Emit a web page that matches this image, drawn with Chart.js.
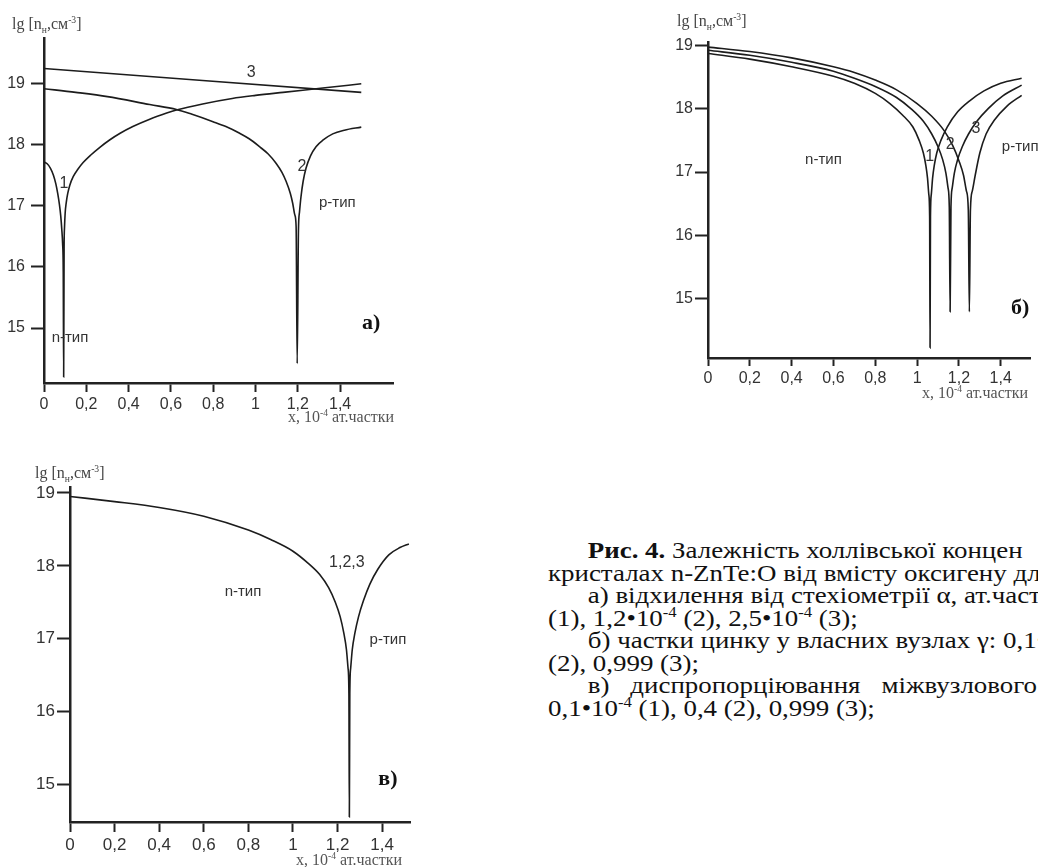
<!DOCTYPE html>
<html>
<head>
<meta charset="utf-8">
<title>Рис. 4</title>
<script src="https://cdn.jsdelivr.net/npm/chart.js@4.4.1/dist/chart.umd.min.js"></script>
<style>
  body { margin: 0; background: #fff; width: 1038px; height: 867px; position: relative; overflow: hidden; }
  canvas { position: absolute; }
  .ytitle, .xtitle { position: absolute; font-family: "Liberation Serif", serif; white-space: nowrap; color: #444; }
  .ytitle { font-size: 16px; }
  .xtitle { font-size: 16px; color: #555; }
  .ytitle sub, .ytitle sup, .xtitle sup { font-size: 60%; line-height: 0; }
  #caption { position: absolute; left: 548px; top: 540px; font-family: "Liberation Serif", serif; font-size: 23px; line-height: 22.5px; color: #111; transform: scaleX(1.17); transform-origin: 0 0; }
  #caption div { white-space: nowrap; }
  #caption .ind { padding-left: 34px; }
  #caption sup { font-size: 62%; line-height: 0; }
  #caption .just { width: 384px; text-align: justify; text-align-last: justify; white-space: normal; }
</style>
</head>
<body>
<canvas id="chartA" width="420" height="430" style="left:0;top:0"></canvas>
<canvas id="chartB" width="378" height="420" style="left:660px;top:0"></canvas>
<canvas id="chartC" width="420" height="427" style="left:0;top:440px"></canvas>

<div class="ytitle" style="left:12px;top:15px">lg [n<sub>н</sub>,см<sup>-3</sup>]</div>
<div class="ytitle" style="left:677px;top:12px">lg [n<sub>н</sub>,см<sup>-3</sup>]</div>
<div class="ytitle" style="left:35px;top:464px">lg [n<sub>н</sub>,см<sup>-3</sup>]</div>
<div class="xtitle" style="left:288px;top:408px">x, 10<sup>-4</sup> ат.частки</div>
<div class="xtitle" style="left:922px;top:384px">x, 10<sup>-4</sup> ат.частки</div>
<div class="xtitle" style="left:296px;top:851px">x, 10<sup>-4</sup> ат.частки</div>

<div id="caption">
  <div class="ind"><b>Рис. 4.</b> Залежність холлівської концен</div>
  <div>кристалах n-ZnTe:O від вмісту оксигену для</div>
  <div class="ind">а) відхилення від стехіометрії α, ат.част</div>
  <div>(1), 1,2•10<sup>-4</sup> (2), 2,5•10<sup>-4</sup> (3);</div>
  <div class="ind">б) частки цинку у власних вузлах γ: 0,1•</div>
  <div>(2), 0,999 (3);</div>
  <div class="ind"><div class="just">в) диспропорціювання міжвузлового</div></div>
  <div>0,1•10<sup>-4</sup> (1), 0,4 (2), 0,999 (3);</div>
</div>

<script>
// tick values shared by all three panels
const xTickVals = [0, 0.2, 0.4, 0.6, 0.8, 1, 1.2, 1.4];
const yTickVals = [15, 16, 17, 18, 19];

// panel а) - deviation from stoichiometry
const a1X = [0, 0.015, 0.03, 0.045, 0.056, 0.065, 0.073, 0.079, 0.084, 0.088, 0.091, 0.093, 0.095, 0.097, 0.1, 0.105, 0.112, 0.122, 0.138, 0.16, 0.185, 0.22, 0.264, 0.31, 0.36, 0.42, 0.5, 0.58, 0.626, 0.75, 0.89, 1.0, 1.13, 1.318, 1.5];
const a1Y = [17.72, 17.69, 17.62, 17.5, 17.36, 17.2, 17.02, 16.84, 16.62, 16.38, 15.92, 14.2, 16.3, 16.65, 16.88, 17.05, 17.2, 17.34, 17.48, 17.6, 17.71, 17.83, 17.96, 18.08, 18.19, 18.3, 18.42, 18.52, 18.57, 18.67, 18.76, 18.81, 18.86, 18.93, 19.0];
const a2X = [0, 0.15, 0.3, 0.5, 0.626, 0.7, 0.799, 0.86, 0.925, 0.97, 1.019, 1.06, 1.097, 1.125, 1.145, 1.165, 1.176, 1.186, 1.192, 1.197, 1.203, 1.208, 1.215, 1.225, 1.239, 1.26, 1.286, 1.32, 1.365, 1.42, 1.5];
const a2Y = [18.92, 18.86, 18.79, 18.66, 18.58, 18.5, 18.38, 18.3, 18.19, 18.1, 17.97, 17.85, 17.7, 17.55, 17.4, 17.2, 17.04, 16.85, 16.66, 14.42, 16.6, 16.9, 17.15, 17.4, 17.62, 17.82, 17.97, 18.08, 18.18, 18.24, 18.29];
const a3X = [0, 1.5];
const a3Y = [19.25, 18.86];

// panel б) - zinc fraction in own sites
const b1X = [0, 0.2, 0.4, 0.6, 0.7, 0.8, 0.87, 0.93, 0.98, 1.01, 1.03, 1.042, 1.05, 1.056, 1.06, 1.062, 1.064, 1.068, 1.074, 1.082, 1.094, 1.114, 1.144, 1.194, 1.25, 1.32, 1.4, 1.5];
const b1Y = [18.87, 18.78, 18.66, 18.51, 18.4, 18.24, 18.08, 17.9, 17.71, 17.5, 17.3, 17.1, 16.9, 16.65, 16.3, 14.23, 16.3, 16.65, 16.9, 17.1, 17.3, 17.5, 17.71, 17.95, 18.12, 18.28, 18.4, 18.48];
const b2X = [0, 0.2, 0.4, 0.6, 0.7, 0.8, 0.9, 0.97, 1.03, 1.07, 1.1, 1.122, 1.138, 1.148, 1.154, 1.158, 1.162, 1.168, 1.178, 1.194, 1.216, 1.246, 1.286, 1.34, 1.41, 1.5];
const b2Y = [18.92, 18.84, 18.73, 18.59, 18.48, 18.35, 18.18, 18.0, 17.8, 17.6, 17.4, 17.2, 16.98, 16.75, 16.45, 14.8, 16.45, 16.75, 16.98, 17.2, 17.4, 17.6, 17.8, 18.0, 18.2, 18.37];
const b3X = [0, 0.2, 0.4, 0.6, 0.7, 0.8, 0.9, 1.0, 1.07, 1.13, 1.17, 1.2, 1.222, 1.236, 1.245, 1.25, 1.255, 1.264, 1.278, 1.3, 1.33, 1.37, 1.43, 1.5];
const b3Y = [18.97, 18.9, 18.8, 18.66, 18.57, 18.45, 18.3, 18.08, 17.88, 17.65, 17.42, 17.18, 16.95, 16.7, 16.4, 14.8, 16.4, 16.7, 16.95, 17.3, 17.6, 17.82, 18.04, 18.21];

// panel в) - interstitial disproportionation (curves 1,2,3 coincide)
const cX = [0, 0.2, 0.4, 0.6, 0.8, 0.9, 1.0, 1.07, 1.12, 1.16, 1.19, 1.212, 1.228, 1.24, 1.247, 1.251, 1.253, 1.255, 1.259, 1.266, 1.278, 1.294, 1.316, 1.345, 1.38, 1.43, 1.48, 1.52];
const cY = [18.95, 18.88, 18.8, 18.68, 18.49, 18.36, 18.2, 18.03, 17.88, 17.7, 17.5, 17.3, 17.08, 16.85, 16.6, 16.25, 14.56, 16.25, 16.6, 16.85, 17.08, 17.3, 17.52, 17.75, 17.95, 18.15, 18.25, 18.3];

// text placed inside the plots (data coordinates)
const notesA = [
  { text: '3', x: 0.98, y: 19.18, kind: 'num' },
  { text: '2', x: 1.22, y: 17.64, kind: 'num' },
  { text: '1', x: 0.094, y: 17.37, kind: 'num' },
  { text: 'р-тип', x: 1.387, y: 17.05, kind: 'type' },
  { text: 'n-тип', x: 0.123, y: 14.84, kind: 'type' },
  { text: 'а)', x: 1.547, y: 15.08, kind: 'panel' }
];
const notesB = [
  { text: '1', x: 1.06, y: 17.25, kind: 'num' },
  { text: '2', x: 1.158, y: 17.43, kind: 'num' },
  { text: '3', x: 1.282, y: 17.68, kind: 'num' },
  { text: 'n-тип', x: 0.552, y: 17.19, kind: 'type' },
  { text: 'р-тип', x: 1.493, y: 17.39, kind: 'type' },
  { text: 'б)', x: 1.493, y: 14.86, kind: 'panel' }
];
const notesC = [
  { text: '1,2,3', x: 1.242, y: 18.05, kind: 'num' },
  { text: 'n-тип', x: 0.776, y: 17.64, kind: 'type' },
  { text: 'р-тип', x: 1.426, y: 16.99, kind: 'type' },
  { text: 'в)', x: 1.426, y: 15.08, kind: 'panel' }
];

const noteStyle = {
  num: { font: '16px "Liberation Sans"', color: '#333' },
  type: { font: '15px "Liberation Sans"', color: '#333' },
  panel: { font: 'bold 22px "Liberation Serif"', color: '#111' }
};

function pts(xs, ys) {
  return xs.map((x, i) => ({ x: x, y: ys[i] }));
}

function notesPlugin(notes) {
  return {
    id: 'notes',
    afterDatasetsDraw(chart) {
      const ctx = chart.ctx;
      ctx.save();
      ctx.textAlign = 'center';
      ctx.textBaseline = 'middle';
      notes.forEach(n => {
        const st = noteStyle[n.kind];
        ctx.font = st.font;
        ctx.fillStyle = st.color;
        ctx.fillText(n.text, chart.scales.x.getPixelForValue(n.x), chart.scales.y.getPixelForValue(n.y));
      });
      ctx.restore();
    }
  };
}

function line(data) {
  return {
    data: data,
    showLine: true,
    pointRadius: 0,
    borderColor: '#1c1c1c',
    borderWidth: 1.6,
    cubicInterpolationMode: 'monotone',
    fill: false
  };
}

// p: ranges and axis box sizes for one panel
function makeChart(id, datasets, notes, p) {
  new Chart(document.getElementById(id), {
    type: 'scatter',
    data: { datasets: datasets.map(line) },
    options: {
      responsive: false,
      animation: false,
      devicePixelRatio: 1,
      layout: { padding: { top: p.padTop, right: p.padRight, left: 0, bottom: 0 } },
      plugins: { legend: { display: false }, tooltip: { enabled: false } },
      scales: {
        x: {
          type: 'linear',
          min: 0,
          max: p.xMax,
          afterBuildTicks: s => { s.ticks = xTickVals.map(v => ({ value: v })); },
          afterFit: s => { s.height = p.xHeight; },
          grid: { drawOnChartArea: false, drawTicks: true, tickLength: p.xTick, tickWidth: 2, tickColor: '#222' },
          border: { display: true, color: '#222', width: 2.5 },
          ticks: {
            color: '#333',
            padding: 3,
            maxRotation: 0,
            font: { family: 'Liberation Sans', size: p.font },
            callback: v => String(v).replace('.', ',')
          }
        },
        y: {
          type: 'linear',
          min: p.yMin,
          max: p.yMax,
          afterBuildTicks: s => { s.ticks = yTickVals.map(v => ({ value: v })); },
          afterFit: s => { s.width = p.yWidth; },
          grid: { drawOnChartArea: false, drawTicks: true, tickLength: 13, tickWidth: 2, tickColor: '#222' },
          border: { display: true, color: '#222', width: 2.5 },
          ticks: {
            color: '#333',
            padding: p.yPad,
            font: { family: 'Liberation Sans', size: p.font },
            callback: v => String(v)
          }
        }
      }
    },
    plugins: [notesPlugin(notes)]
  });
}

makeChart('chartA', [pts(a1X, a1Y), pts(a2X, a2Y), pts(a3X, a3Y)], notesA,
  { xMax: 1.65, yMin: 14.1, yMax: 19.75, padTop: 38, padRight: 27, yWidth: 44, xHeight: 47, xTick: 9, yPad: 6, font: 16 });

makeChart('chartB', [pts(b1X, b1Y), pts(b2X, b2Y), pts(b3X, b3Y)], notesB,
  { xMax: 1.54, yMin: 14.07, yMax: 19.05, padTop: 42, padRight: 8, yWidth: 48, xHeight: 62, xTick: 8, yPad: 2, font: 16 });

makeChart('chartC', [pts(cX, cY)], notesC,
  { xMax: 1.525, yMin: 14.49, yMax: 19.08, padTop: 47, padRight: 10, yWidth: 70, xHeight: 45, xTick: 10, yPad: 2, font: 17 });
</script>
</body>
</html>
